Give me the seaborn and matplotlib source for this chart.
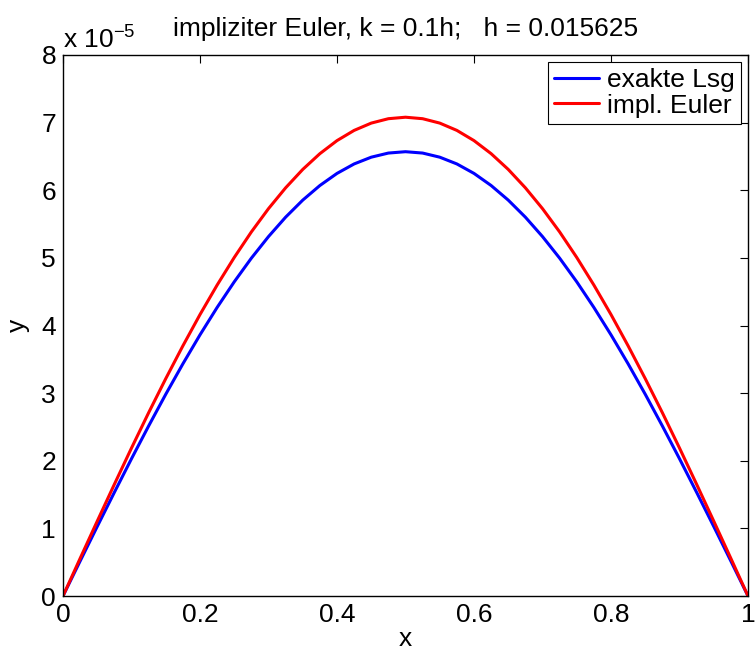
import matplotlib
matplotlib.use("Agg")
import matplotlib.pyplot as plt
import seaborn as sns
import pandas as pd

# values (y in units of 1e-5)
x_vals = [0.0, 0.025, 0.05, 0.075, 0.1, 0.125, 0.15, 0.175, 0.2, 0.225, 0.25,
          0.275, 0.3, 0.325, 0.35, 0.375, 0.4, 0.425, 0.45, 0.475, 0.5,
          0.525, 0.55, 0.575, 0.6, 0.625, 0.65, 0.675, 0.7, 0.725, 0.75,
          0.775, 0.8, 0.825, 0.85, 0.875, 0.9, 0.925, 0.95, 0.975, 1.0]
exakt = [0.0, 0.516, 1.028, 1.533, 2.030, 2.514, 2.983, 3.433, 3.862, 4.267, 4.646,
         4.996, 5.315, 5.602, 5.854, 6.070, 6.249, 6.389, 6.489, 6.550, 6.570,
         6.550, 6.489, 6.389, 6.249, 6.070, 5.854, 5.602, 5.315, 4.996, 4.646,
         4.267, 3.862, 3.433, 2.983, 2.514, 2.030, 1.533, 1.028, 0.516, 0.0]
euler = [0.0, 0.556, 1.107, 1.652, 2.188, 2.710, 3.214, 3.699, 4.162, 4.598, 5.006,
         5.384, 5.728, 6.036, 6.308, 6.541, 6.734, 6.885, 6.993, 7.058, 7.080,
         7.058, 6.993, 6.885, 6.734, 6.541, 6.308, 6.036, 5.728, 5.384, 5.006,
         4.598, 4.162, 3.699, 3.214, 2.710, 2.188, 1.652, 1.107, 0.556, 0.0]
series_names = ["exakte Lsg", "impl. Euler"]
title = "impliziter Euler, k = 0.1h;   h = 0.015625"

df = pd.concat([
    pd.DataFrame({"x": x_vals, "y": exakt, "Lsg": series_names[0]}),
    pd.DataFrame({"x": x_vals, "y": euler, "Lsg": series_names[1]}),
])

sns.set_style("white")
plt.rcParams["font.family"] = ["Liberation Sans", "DejaVu Sans"]
plt.rcParams["mathtext.fontset"] = "custom"
plt.rcParams["mathtext.rm"] = "Liberation Sans"
plt.rcParams["mathtext.it"] = "Liberation Sans"
for key in ["text.color", "axes.labelcolor", "xtick.color", "ytick.color", "axes.edgecolor"]:
    plt.rcParams[key] = "black"

fs = 19
fig = plt.figure(figsize=(7.55, 6.56), dpi=100)
ax = fig.add_axes([63 / 755, 1 - 596 / 656, (748 - 63) / 755, (596 - 55) / 656])

sns.lineplot(data=df, x="x", y="y", hue="Lsg", palette=["#0000ff", "#ff0000"],
             linewidth=2.2, ax=ax, sort=False)

ax.set_xlim(0, 1)
ax.set_ylim(0, 8)
ax.set_xticks([0, 0.2, 0.4, 0.6, 0.8, 1])
ax.set_xticklabels(["0", "0.2", "0.4", "0.6", "0.8", "1"])
ax.set_yticks(range(0, 9))
ax.tick_params(direction="in", length=6, width=0.8, labelsize=fs, top=True, right=True,
               color="black", labelcolor="black", pad=5)
for s in ax.spines.values():
    s.set_color("black")
    s.set_linewidth(1.0)

ax.set_xlabel("x", fontsize=fs, labelpad=0, color="black")
ax.set_ylabel("y", fontsize=fs, labelpad=8, color="black")
ax.set_title(title, fontsize=fs, pad=14, color="black")
ax.text(0.0, 1.003, r"x 10$^{-5}$", transform=ax.transAxes, fontsize=fs,
        va="bottom", ha="left", color="black")

leg = ax.legend(loc="upper right", fontsize=fs, frameon=True, fancybox=False,
                borderaxespad=0.25, handlelength=1.7, handletextpad=0.3,
                borderpad=0.25, labelspacing=0.05, framealpha=1)
leg.get_frame().set_edgecolor("black")
leg.get_frame().set_linewidth(0.8)
leg.set_title(None)
for t in leg.get_texts():
    t.set_color("black")

plt.savefig("out.png", dpi=100)
